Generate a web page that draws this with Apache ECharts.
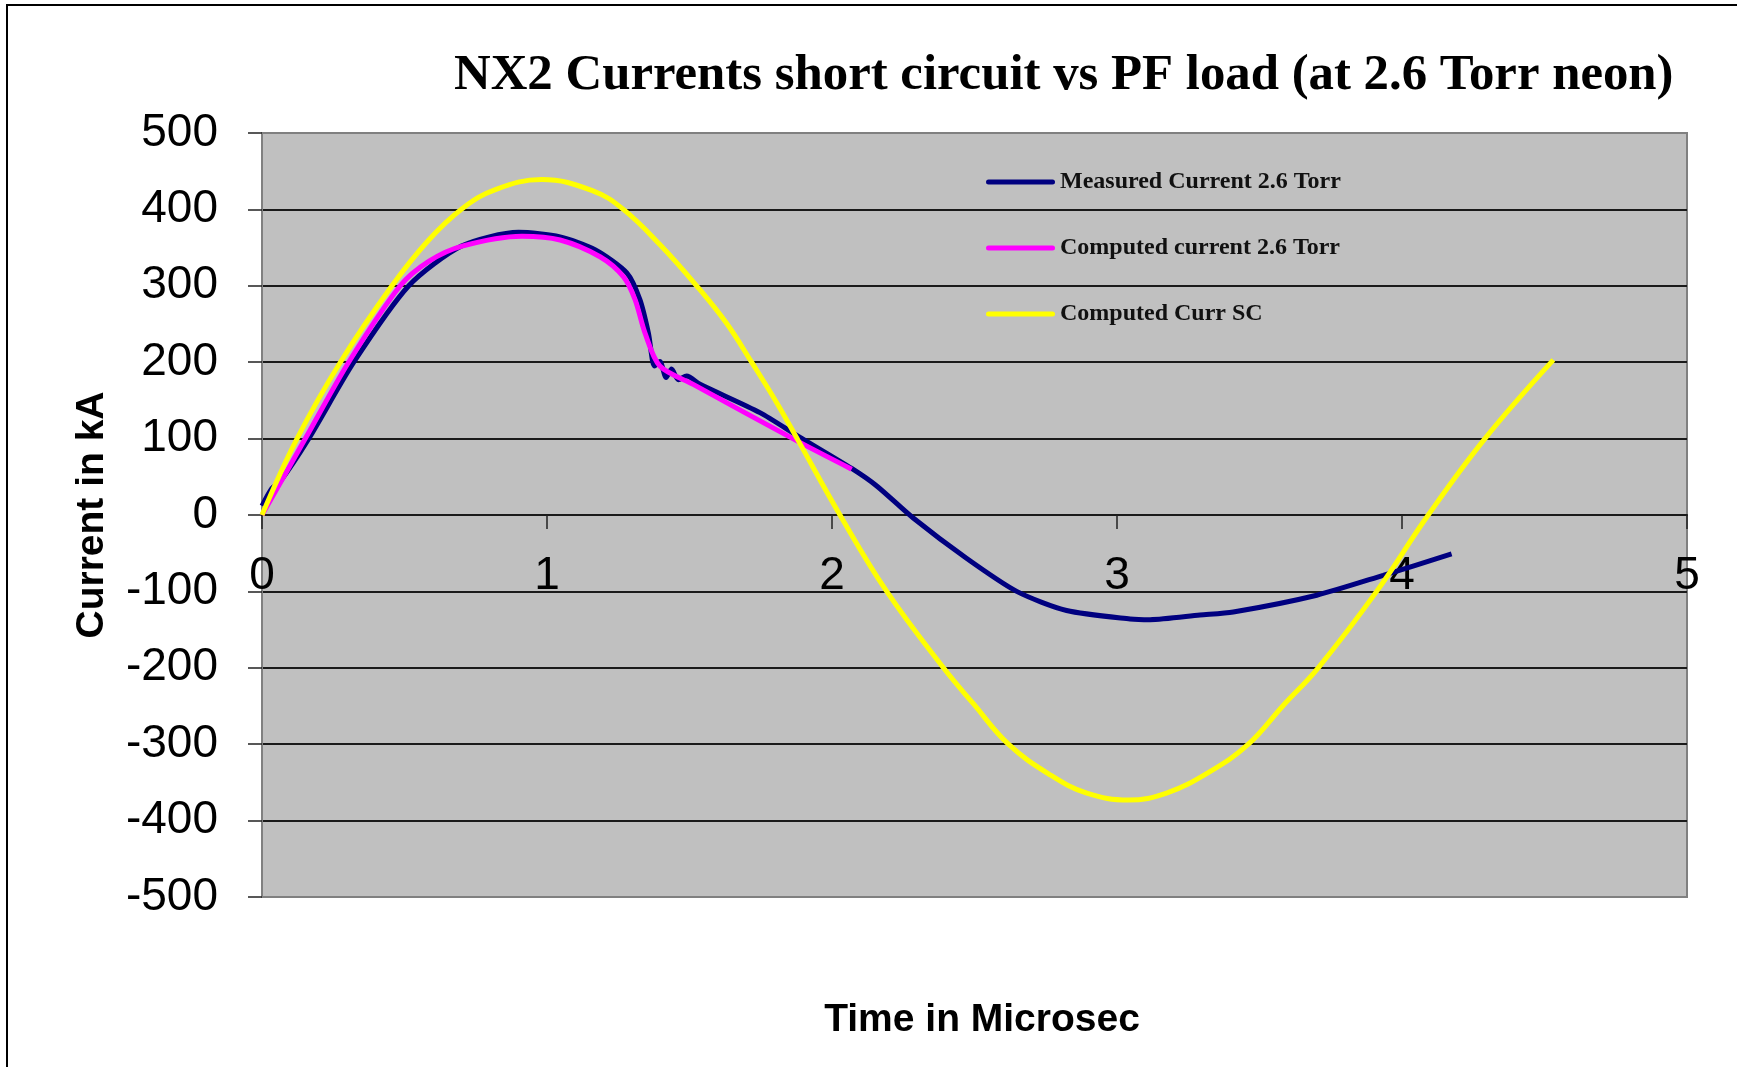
<!DOCTYPE html>
<html>
<head>
<meta charset="utf-8">
<script src="https://cdn.jsdelivr.net/npm/echarts@6/dist/echarts.min.js"></script>
<style>
  html, body { margin: 0; padding: 0; background: #fff; }
  #chart { width: 1737px; height: 1067px; }
</style>
</head>
<body>
<div id="chart"></div>
<script>
// 数据：时间（微秒）与电流（kA）
const measuredT = [0, 0.035, 0.06, 0.164, 0.322, 0.515, 0.7, 0.9, 1.046, 1.17, 1.28, 1.326, 1.356, 1.377, 1.396, 1.418, 1.437, 1.461, 1.49, 1.537, 1.747, 1.882, 2.069, 2.157, 2.285, 2.473, 2.648, 2.823, 3.046, 3.116, 3.291, 3.408, 3.701, 3.934, 4.174];
const measuredI = [12, 35, 42, 100, 200, 300, 352, 370, 364, 347, 317, 282, 238, 195, 201, 180, 191, 177, 182, 171, 134, 103, 61, 38, -4, -57, -100, -125, -136, -137, -131, -127, -105, -79, -51];

const computedT = [0, 0.152, 0.304, 0.485, 0.585, 0.702, 0.912, 1.046, 1.186, 1.268, 1.309, 1.344, 1.396, 1.513, 1.882, 2.069];
const computedI = [0, 100, 200, 300, 332, 352, 365, 360, 338, 312, 282, 238, 195, 171, 96, 60];

const scT = [0, 0.123, 0.275, 0.456, 0.585, 0.702, 0.819, 0.982, 1.163, 1.268, 1.396, 1.525, 1.63, 1.718, 1.806, 1.882, 2.028, 2.192, 2.391, 2.496, 2.619, 2.765, 2.894, 3.04, 3.174, 3.326, 3.461, 3.584, 3.706, 3.911, 4.092, 4.291, 4.531];
const scI = [0, 100, 200, 300, 360, 401, 426, 439, 424, 400, 354, 300, 251, 200, 147, 97, 0, -100, -200, -247, -300, -340, -364, -373, -364, -336, -300, -249, -200, -100, 0, 100, 203];

const seriesNames = ["Measured Current 2.6 Torr", "Computed current 2.6 Torr", "Computed Curr SC"];
const xTicks = [0, 1, 2, 3, 4, 5];

const zip = (xs, ys) => xs.map((x, k) => [x, ys[k]]);

const chart = echarts.init(document.getElementById("chart"));
const sans = "Arial, 'Liberation Sans', sans-serif";
const serif = "'Times New Roman', 'Liberation Serif', serif";
// 图例图标：圆头粗线
const lineIcon = "path://M2.5,0 L66.5,0 A2.5,2.5 0 0 1 66.5,5 L2.5,5 A2.5,2.5 0 0 1 2.5,0 Z";

chart.setOption({
  animation: false,
  backgroundColor: "#fff",
  title: {
    text: "NX2 Currents short circuit vs PF load (at 2.6 Torr neon)",
    left: 449,
    top: 45,
    textStyle: { fontFamily: serif, fontWeight: "bold", fontSize: 50.8, color: "#000" },
  },
  graphic: [
    {
      type: "rect",
      shape: { x: 7, y: 5, width: 1800, height: 1200 },
      style: { fill: "none", stroke: "#000", lineWidth: 2 },
      silent: true,
    },
  ],
  legend: {
    orient: "vertical",
    left: 981,
    top: 165,
    itemWidth: 69,
    itemHeight: 24,
    itemGap: 42,
    icon: lineIcon,
    data: seriesNames,
    textStyle: { fontFamily: serif, fontWeight: "bold", fontSize: 24, color: "#111" },
  },
  grid: {
    left: 262,
    top: 133,
    right: 50,
    bottom: 170,
    outerBoundsMode: "none",
    containLabel: false,
    show: true,
    backgroundColor: "#C0C0C0",
    borderColor: "#808080",
    borderWidth: 2,
  },
  xAxis: {
    type: "value",
    min: 0,
    max: 5,
    interval: 1,
    name: "Time in Microsec",
    nameLocation: "middle",
    nameGap: 104,
    nameTextStyle: { fontFamily: sans, fontWeight: "bold", fontSize: 39, color: "#000", padding: [0, 0, 0, 15] },
    axisLine: { onZero: true, lineStyle: { color: "#1a1a1a", width: 2 } },
    axisTick: { show: true, length: 14, lineStyle: { color: "#222", width: 1.5 } },
    axisLabel: {
      // 标签贴着0刻度线下方（v6里标签停在网格底边，用负margin拉上来）
      margin: -344,
      fontFamily: sans,
      fontSize: 46,
      color: "#000",
      showMinLabel: true,
      showMaxLabel: true,
      hideOverlap: false,
      formatter: (v) => (xTicks.includes(v) ? String(v) : ""),
    },
    splitLine: { show: false },
  },
  yAxis: {
    type: "value",
    min: -500,
    max: 500,
    interval: 100,
    name: "Current in kA",
    nameLocation: "middle",
    nameGap: 150,
    nameTextStyle: { fontFamily: sans, fontWeight: "bold", fontSize: 39, color: "#000" },
    axisLine: { show: true, onZero: false, lineStyle: { color: "#808080", width: 2 } },
    axisTick: { show: true, length: 14, lineStyle: { color: "#222", width: 1.5 } },
    axisLabel: { margin: 44, fontFamily: sans, fontSize: 46, color: "#000", showMinLabel: true, showMaxLabel: true, hideOverlap: false },
    splitLine: { show: true, showMinLine: false, showMaxLine: false, lineStyle: { color: "#1a1a1a", width: 2 } },
  },
  series: [
    {
      name: seriesNames[0],
      type: "line",
      data: zip(measuredT, measuredI),
      symbol: "none",
      smooth: 0.25,
      lineStyle: { color: "#000080", width: 5 },
      itemStyle: { color: "#000080" },
    },
    {
      name: seriesNames[1],
      type: "line",
      data: zip(computedT, computedI),
      symbol: "none",
      smooth: 0.3,
      lineStyle: { color: "#FF00FF", width: 5 },
      itemStyle: { color: "#FF00FF" },
    },
    {
      name: seriesNames[2],
      type: "line",
      data: zip(scT, scI),
      symbol: "none",
      smooth: 0.4,
      lineStyle: { color: "#FFFF00", width: 5 },
      itemStyle: { color: "#FFFF00" },
    },
  ],
});
</script>
</body>
</html>
